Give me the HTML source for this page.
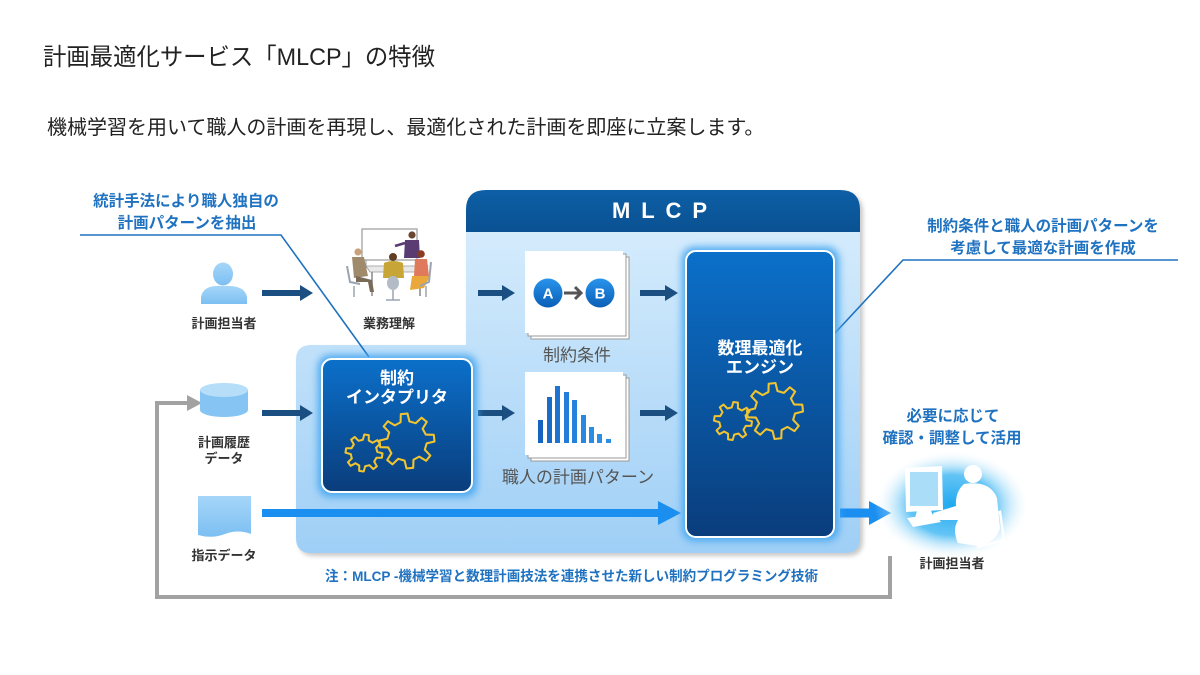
<!DOCTYPE html>
<html><head><meta charset="utf-8">
<style>
html,body{margin:0;padding:0;background:#fff;}
svg{display:block;}
text{font-family:"Liberation Sans","Noto Sans CJK JP",sans-serif;}
</style></head>
<body>
<svg width="1200" height="675" viewBox="0 0 1200 675" xmlns="http://www.w3.org/2000/svg">
<defs>
  <linearGradient id="panelG" x1="0" y1="232" x2="0" y2="553" gradientUnits="userSpaceOnUse">
    <stop offset="0" stop-color="#d4ebfc"/>
    <stop offset="1" stop-color="#9fcff6"/>
  </linearGradient>
  <linearGradient id="hdrG" x1="0" y1="0" x2="0" y2="1">
    <stop offset="0" stop-color="#0d5fa6"/>
    <stop offset="1" stop-color="#0a5192"/>
  </linearGradient>
  <linearGradient id="boxG" x1="0" y1="0" x2="0" y2="1">
    <stop offset="0" stop-color="#0b70ca"/>
    <stop offset="1" stop-color="#0a3d7c"/>
  </linearGradient>
  <linearGradient id="iconG" x1="0" y1="0" x2="0" y2="1">
    <stop offset="0" stop-color="#a6d6f9"/>
    <stop offset="1" stop-color="#7cbff2"/>
  </linearGradient>
  <linearGradient id="circG" x1="0" y1="0" x2="0" y2="1">
    <stop offset="0" stop-color="#2894ec"/>
    <stop offset="1" stop-color="#0a5eb6"/>
  </linearGradient>
  <radialGradient id="glowG" cx="0.5" cy="0.5" r="0.5">
    <stop offset="0" stop-color="#20a8f0"/>
    <stop offset="0.55" stop-color="#48baf3" stop-opacity="0.85"/>
    <stop offset="1" stop-color="#ffffff" stop-opacity="0"/>
  </radialGradient>
  <filter id="blur4" x="-20%" y="-20%" width="140%" height="140%"><feGaussianBlur stdDeviation="4"/></filter>
  <filter id="blur2" x="-20%" y="-20%" width="140%" height="140%"><feGaussianBlur stdDeviation="2"/></filter>
  <path id="gear" fill="none" stroke-linejoin="round" d="M70.2,-16.2 L99.3,-12.2 L99.3,12.2 L70.2,16.2 L61.1,38.2 L78.8,61.6 L61.6,78.8 L38.2,61.1 L16.2,70.2 L12.2,99.3 L-12.2,99.3 L-16.2,70.2 L-38.2,61.1 L-61.6,78.8 L-78.8,61.6 L-61.1,38.2 L-70.2,16.2 L-99.3,12.2 L-99.3,-12.2 L-70.2,-16.2 L-61.1,-38.2 L-78.8,-61.6 L-61.6,-78.8 L-38.2,-61.1 L-16.2,-70.2 L-12.2,-99.3 L12.2,-99.3 L16.2,-70.2 L38.2,-61.1 L61.6,-78.8 L78.8,-61.6 L61.1,-38.2 Z"/>
</defs>

<!-- Title -->
<text x="43" y="65" font-size="24" fill="#222" textLength="392" lengthAdjust="spacingAndGlyphs">計画最適化サービス「MLCP」の特徴</text>
<text x="47" y="134" font-size="20" fill="#222">機械学習を用いて職人の計画を再現し、最適化された計画を即座に立案します。</text>

<!-- Gray feedback line -->
<polyline points="890,556 890,597 157,597 157,403 190,403" fill="none" stroke="#a2a2a2" stroke-width="4"/>
<polygon points="187,395 202,403 187,411" fill="#a2a2a2"/>

<!-- Panel shadow -->
<path d="M469,213 Q469,193 489,193 L843,193 Q863,193 863,213 L863,541 Q863,556 848,556 L314,556 Q299,556 299,541 L299,363 Q299,348 314,348 L469,348 Z" fill="#888" opacity="0.45" filter="url(#blur2)"/>
<!-- Panel body -->
<path d="M466,210 Q466,190 486,190 L840,190 Q860,190 860,210 L860,538 Q860,553 845,553 L311,553 Q296,553 296,538 L296,360 Q296,345 311,345 L466,345 Z" fill="url(#panelG)"/>
<!-- Header -->
<path d="M466,232 L466,210 Q466,190 486,190 L840,190 Q860,190 860,210 L860,232 Z" fill="url(#hdrG)"/>
<text x="612" y="218" font-size="22" font-weight="bold" fill="#fff" textLength="95" lengthAdjust="spacing">MLCP</text>

<!-- Callout lines -->
<polyline points="80,235 281,235 369,357" fill="none" stroke="#1f72c0" stroke-width="1.6"/>
<polyline points="1178,260 903,260 835,333" fill="none" stroke="#1f72c0" stroke-width="1.6"/>

<!-- Callout texts -->
<g font-size="15.5" font-weight="bold" fill="#1f72c0" text-anchor="middle">
  <text x="186" y="206">統計手法により職人独自の</text>
  <text x="187" y="228">計画パターンを抽出</text>
  <text x="1043" y="231">制約条件と職人の計画パターンを</text>
  <text x="1043" y="253">考慮して最適な計画を作成</text>
  <text x="953" y="421">必要に応じて</text>
  <text x="952" y="443">確認・調整して活用</text>
</g>

<!-- Left icons -->
<ellipse cx="223" cy="274" rx="10" ry="11.5" fill="url(#iconG)"/>
<path d="M201,304 L201,297 Q203,287 215,286 L231,286 Q245,287 247,297 L247,304 Z" fill="url(#iconG)"/>
<!-- database -->
<path d="M200,390 L200,410 A24,7 0 0 0 248,410 L248,390 Z" fill="#86c4f3"/>
<ellipse cx="224" cy="390" rx="24" ry="7" fill="#b6def9"/>
<!-- document -->
<path d="M198,496 L251,496 L251,534 Q238,529 225,534 Q212,539 198,535 Z" fill="url(#iconG)"/>

<g font-size="13" font-weight="bold" fill="#333" text-anchor="middle">
  <text x="224" y="328">計画担当者</text>
  <text x="389" y="328">業務理解</text>
  <text x="224" y="447">計画履歴</text>
  <text x="224" y="463">データ</text>
  <text x="224" y="560">指示データ</text>
  <text x="952" y="568">計画担当者</text>
</g>

<!-- Meeting illustration -->
<g>
  <rect x="362" y="229" width="55" height="31" fill="#fff" stroke="#9a9a9a" stroke-width="1.2"/>
  <line x1="366" y1="260" x2="366" y2="270" stroke="#999"/>
  <!-- presenter -->
  <circle cx="412" cy="235" r="3.6" fill="#6b4630"/>
  <path d="M405,240 L419,240 L420,258 L404,258 Z" fill="#5a3b72"/>
  <line x1="405" y1="243" x2="395" y2="246" stroke="#5a3b72" stroke-width="2.5"/>
  <!-- table -->
  <polygon points="366,266 428,266 424,272 370,272" fill="#e8e8e8" stroke="#999" stroke-width="0.8"/>
  <line x1="372" y1="272" x2="372" y2="296" stroke="#888" stroke-width="1.5"/>
  <line x1="420" y1="272" x2="420" y2="296" stroke="#888" stroke-width="1.5"/>
  <!-- left person -->
  <circle cx="358" cy="252" r="3.6" fill="#c9a27a"/>
  <path d="M352,257 L364,257 L368,276 L354,278 Z" fill="#a08a6c"/>
  <path d="M356,276 L372,280 L374,292 L370,292 L368,282 L356,282 Z" fill="#7a6a58"/>
  <path d="M347,266 L350,282 L360,284" fill="none" stroke="#9aa4b0" stroke-width="2"/>
  <line x1="354" y1="286" x2="354" y2="297" stroke="#9aa4b0" stroke-width="1.5"/>
  <!-- yellow person -->
  <circle cx="393" cy="257" r="4" fill="#5e3f26"/>
  <path d="M384,263 Q393,259 403,263 L404,278 L383,278 Z" fill="#c7a536"/>
  <ellipse cx="393" cy="283" rx="6" ry="7" fill="#b3bcc6"/>
  <line x1="393" y1="290" x2="393" y2="300" stroke="#9aa4b0" stroke-width="1.5"/>
  <line x1="386" y1="300" x2="400" y2="300" stroke="#9aa4b0" stroke-width="1.5"/>
  <!-- right person -->
  <circle cx="421" cy="254" r="3.8" fill="#8a3b22"/>
  <path d="M415,259 L427,259 L429,276 L414,276 Z" fill="#e07a5c"/>
  <path d="M412,276 L430,276 L424,288 L410,290 Z" fill="#eaa83a"/>
  <path d="M431,262 L429,282 L420,286" fill="none" stroke="#9aa4b0" stroke-width="2"/>
  <line x1="426" y1="286" x2="426" y2="297" stroke="#9aa4b0" stroke-width="1.5"/>
</g>

<!-- Navy arrows -->
<g fill="#1b4f82">
  <polygon points="262,290 300,290 300,285 313,293 300,301 300,296 262,296"/>
  <polygon points="478,290 502,290 502,285 515,293 502,301 502,296 478,296"/>
  <polygon points="640,290 665,290 665,285 678,293 665,301 665,296 640,296"/>
  <polygon points="262,410 300,410 300,405 313,413 300,421 300,416 262,416"/>
  <polygon points="478,410 502,410 502,405 515,413 502,421 502,416 478,416"/>
  <polygon points="640,410 665,410 665,405 678,413 665,421 665,416 640,416"/>
</g>

<!-- Light blue arrows -->
<polygon points="262,509 658,509 658,501 681,513 658,525 658,517 262,517" fill="#1a8ff0"/>
<polygon points="840,508.5 869,508.5 869,501 891,513 869,525 869,517.5 840,517.5" fill="#1a8ff0"/>

<!-- Cards -->
<g stroke="#9a9a9a" stroke-width="1">
  <rect x="531" y="257" width="98" height="82" fill="#fff"/>
  <rect x="528" y="254" width="98" height="82" fill="#fff"/>
  <rect x="531" y="378" width="98" height="83" fill="#fff"/>
  <rect x="528" y="375" width="98" height="83" fill="#fff"/>
</g>
<rect x="525" y="251" width="98" height="82" fill="#fff"/>
<rect x="525" y="372" width="98" height="83" fill="#fff"/>

<!-- A -> B -->
<circle cx="548" cy="293" r="14.5" fill="url(#circG)"/>
<circle cx="600" cy="293" r="14.5" fill="url(#circG)"/>
<text x="548" y="298.5" font-size="15" font-weight="bold" fill="#fff" text-anchor="middle">A</text>
<text x="600" y="298.5" font-size="15" font-weight="bold" fill="#fff" text-anchor="middle">B</text>
<line x1="564" y1="293" x2="580" y2="293" stroke="#555" stroke-width="3"/>
<polyline points="575,287 581,293 575,299" fill="none" stroke="#555" stroke-width="3"/>

<!-- Bars -->
<g>
  <rect x="538" y="420" width="5" height="23" fill="#1565c0"/>
  <rect x="547" y="397" width="5" height="46" fill="#1a6cc8"/>
  <rect x="555" y="386" width="5" height="57" fill="#1e74d0"/>
  <rect x="564" y="392" width="5" height="51" fill="#227cd8"/>
  <rect x="572" y="400" width="5" height="43" fill="#2582dc"/>
  <rect x="581" y="415" width="5" height="28" fill="#2888e0"/>
  <rect x="589" y="427" width="5" height="16" fill="#2a8ce2"/>
  <rect x="597" y="434" width="5" height="9" fill="#2c8fe4"/>
  <rect x="606" y="439" width="5" height="4" fill="#2c8fe4"/>
</g>

<g font-size="17" fill="#555" text-anchor="middle">
  <text x="577" y="361">制約条件</text>
  <text x="578" y="483">職人の計画パターン</text>
</g>

<!-- Interpreter box -->
<rect x="318" y="355" width="159" height="142" rx="12" fill="#4aa8f0" filter="url(#blur4)"/>
<rect x="322" y="359" width="150" height="133" rx="10" fill="url(#boxG)" stroke="#fff" stroke-width="2"/>
<g font-size="17" font-weight="bold" fill="#fff" text-anchor="middle">
  <text x="397" y="384">制約</text>
  <text x="397" y="403">インタプリタ</text>
</g>
<g stroke="#f2c530">
  <use href="#gear" transform="translate(364,453) scale(0.185) rotate(8)" stroke-width="11"/>
  <use href="#gear" transform="translate(407,441) scale(0.275) rotate(-6)" stroke-width="7.5"/>
</g>

<!-- Engine box -->
<rect x="682" y="247" width="157" height="294" rx="12" fill="#4aa8f0" filter="url(#blur4)"/>
<rect x="686" y="251" width="148" height="286" rx="10" fill="url(#boxG)" stroke="#fff" stroke-width="2"/>
<g font-size="17" font-weight="bold" fill="#fff" text-anchor="middle">
  <text x="760" y="354">数理最適化</text>
  <text x="760" y="373">エンジン</text>
</g>
<g stroke="#f2c530">
  <use href="#gear" transform="translate(733,421) scale(0.19) rotate(8)" stroke-width="10.5"/>
  <use href="#gear" transform="translate(775,411) scale(0.28) rotate(-6)" stroke-width="7.3"/>
</g>

<!-- Note -->
<text x="325" y="581" font-size="14" font-weight="bold" fill="#1f72c0" textLength="493" lengthAdjust="spacingAndGlyphs">注：MLCP -機械学習と数理計画技法を連携させた新しい制約プログラミング技術</text>

<!-- Computer person -->
<ellipse cx="952" cy="505" rx="78" ry="55" fill="url(#glowG)"/>
<g fill="#fff">
  <path d="M905,468 L942,466 L943,510 L906,512 Z"/>
  <path d="M917,511 L931,510 L933,517 L915,518 Z"/>
  <polygon points="907,518 935,514 941,522 913,527"/>
  <circle cx="973" cy="474" r="9"/>
  <path d="M964,484 Q990,480 997,498 L1000,528 Q996,543 978,546 L958,543 Q952,530 958,520 L936,520 L933,513 L956,506 Q955,492 964,484 Z"/>
</g>
<path d="M978,547 L980,520 L1000,512 L1004,540 Z" fill="none" stroke="#fff" stroke-width="2.5"/>
<rect x="910" y="472" width="28" height="34" fill="#a9ddf8"/>
</svg>
</body></html>
